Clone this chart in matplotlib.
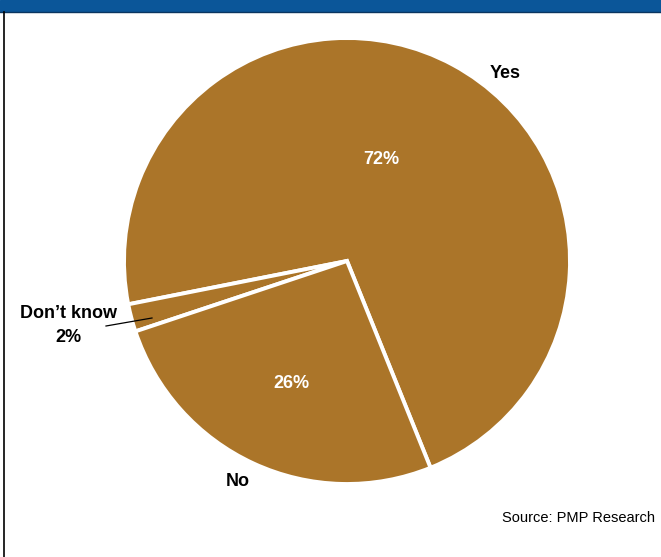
import matplotlib.pyplot as plt
from matplotlib.patches import Rectangle
from matplotlib.lines import Line2D

labels = ["Yes", "Don\u2019t know", "No"]
shares = [72, 2, 26]

brown = "#AB7529"
band_blue = "#0B5699"
font = ["Liberation Sans Narrow", "Liberation Sans", "DejaVu Sans"]

W, H = 661, 557
fig = plt.figure(figsize=(W / 100, H / 100), dpi=100)
ax = fig.add_axes([0, 0, 1, 1])

# pie in pixel space, y measured from the bottom
cx, cy, r = 347, H - 261, 223
wedges, _ = ax.pie(shares, colors=[brown] * 3, startangle=-68, counterclock=True,
                   center=(cx, cy), radius=r, frame=True,
                   wedgeprops=dict(edgecolor="white", linewidth=2.8))
ax.set_xlim(0, W)
ax.set_ylim(0, H)
ax.set_aspect("equal")
ax.axis("off")

bold = dict(fontsize=13, fontweight="bold", family=font, ha="center", va="center")

# values inside the slices
ax.text(381, H - 160, f"{shares[0]}%", color="white", **bold)
ax.text(291, H - 383, f"{shares[2]}%", color="white", **bold)

# outside category labels
ax.text(505, H - 74, labels[0], **bold)
ax.text(238, H - 482, labels[2], **bold)
ax.text(68, H - 313, labels[1], **bold)
ax.text(68, H - 338, f"{shares[1]}%", **bold)
ax.add_line(Line2D([106, 152], [H - 326, H - 318], color="black", linewidth=0.9))

ax.text(655, H - 518, "Source: PMP Research", fontsize=10.5, family=font,
        ha="right", va="center")

# header band and left rule
ax.add_patch(Rectangle((0, H - 11), W, 11, color=band_blue, clip_on=False))
ax.add_line(Line2D([0, W], [H - 11.5, H - 11.5], color="#0A3560", linewidth=1))
ax.add_line(Line2D([3.5, 3.5], [0, H - 12], color="black", linewidth=1.2))

fig.savefig("out.png", dpi=100)
